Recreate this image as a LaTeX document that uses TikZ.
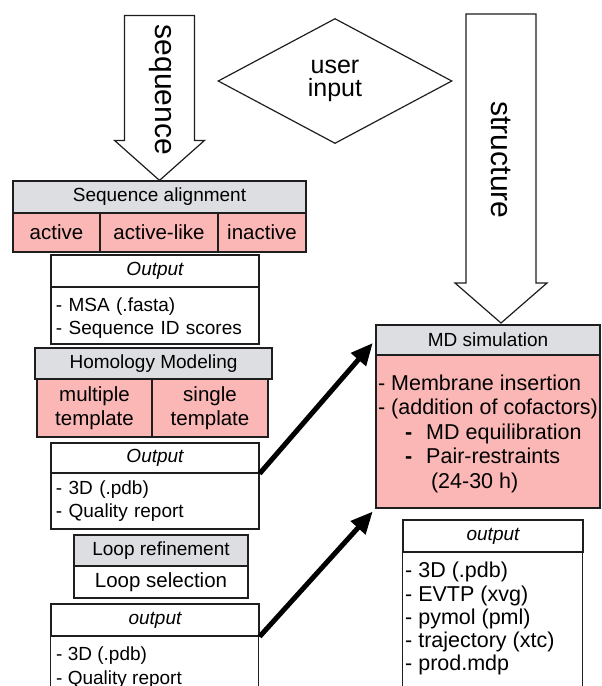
\documentclass[tikz,border=0pt]{standalone}
\usepackage{fontspec}
\setmainfont{Liberation Sans}
\usetikzlibrary{shapes.geometric,arrows.meta}

\definecolor{hdrgray}{RGB}{221,222,225}
\definecolor{cellpink}{RGB}{250,183,181}
\definecolor{linegray}{RGB}{30,30,30}

\tikzset{
  box/.style={draw=linegray, line width=1.2pt, rectangle, inner sep=0pt, align=center},
  hdr/.style={box, fill=hdrgray, font=\fontsize{19}{22}\selectfont},
  cell/.style={box, fill=cellpink, font=\fontsize{20.5}{24}\selectfont},
  whitebox/.style={box, fill=white, font=\fontsize{19}{22.5}\selectfont},
  listbox/.style={whitebox, text width=198pt, align=left},
  blockarrow/.style={draw=linegray, line width=1.2pt, fill=white},
  bigword/.style={rotate=-90, font=\fontsize{30}{36}\selectfont},
  fatarrow/.style={line width=5pt, shorten >=4pt, -{Triangle[length=22pt,width=19pt]}},
}

\begin{document}
\begin{tikzpicture}[x=1pt,y=-1pt]
            \useasboundingbox (0,0) rectangle (602,686);
            \clip (0,0) rectangle (602,686);

            % user input
            \node[diamond, draw=linegray, line width=1.2pt, minimum width=234pt, minimum height=125pt,
                  inner sep=0pt, align=center, font=\fontsize{25}{23}\selectfont] (userin) at (335,81) {user\\input};

            % sequence branch
            \node[hdr, minimum width=293pt, minimum height=32pt] (seqaln) at (159.5,197) {Sequence alignment};
            \node[cell, minimum width=87pt, minimum height=39pt] (active) at (56.5,232.5) {active};
            \node[cell, minimum width=118pt, minimum height=39pt] (actlike) at (159,232.5) {active-like};
            \node[cell, minimum width=88pt, minimum height=39pt] (inactive) at (262,232.5) {inactive};
            \draw[blockarrow] (seqaln.north) -- ++(45,-40) -- ++(-10,0) -- ++(0,-125) -- ++(-70,0)
                -- ++(0,125) -- ++(-10,0) -- cycle;
            \node[bigword] (seqword) at (160,90) {sequence};

            \node[whitebox, minimum width=208pt, minimum height=32pt] (out1hdr) at (155,271) {\itshape Output};
            \node[listbox, minimum width=208pt, minimum height=57pt] (out1body) at (155,315.5)
                {\rule{0pt}{19pt}- MSA (.fasta)\\- Sequence ID scores};

            \node[hdr, minimum width=237pt, minimum height=31pt] (homhdr) at (153.5,363.5) {Homology Modeling};
            \node[cell, minimum width=115pt, minimum height=58pt] (multi) at (94.5,408) {multiple\\template};
            \node[cell, minimum width=116pt, minimum height=58pt] (single) at (210,408) {single\\template};

            \node[whitebox, minimum width=208pt, minimum height=30pt] (out2hdr) at (155,458) {\itshape Output};
            \node[listbox, minimum width=208pt, minimum height=56pt] (out2body) at (155,501)
                {- 3D (.pdb)\\- Quality report};

            \node[hdr, minimum width=174pt, minimum height=31pt] (loophdr) at (161,550.5) {Loop refinement};
            \node[whitebox, minimum width=174pt, minimum height=32pt, font=\fontsize{20.5}{24}\selectfont]
                (loopsel) at (161,582) {Loop selection};

            \node[whitebox, minimum width=208pt, minimum height=32pt] (out3hdr) at (155,620) {\itshape output};
            \draw[box] (out3hdr.south west) rectangle ++(208,70);
            \node[anchor=north west, inner sep=0pt, align=left, font=\fontsize{19}{24}\selectfont]
                (out3body) at (56,647) {- 3D (.pdb)\\- Quality report};

            % structure branch
            \node[hdr, minimum width=224pt, minimum height=30pt] (mdhdr) at (488,340) {MD simulation};
            \node[cell, minimum width=224pt, minimum height=153pt, align=left,
                  font=\fontsize{21.5}{24.5}\selectfont] (mdbody) at (488,431.5)
                {\rule{0pt}{20pt}- Membrane insertion\\- (addition of cofactors)\\
                 \hspace*{27pt}\textbf{-}\hspace{14pt}MD equilibration\\
                 \hspace*{27pt}\textbf{-}\hspace{14pt}Pair-restraints\\
                 \hspace*{53pt}(24-30 h)};
            \draw[blockarrow] (501,323) -- (547,283) -- (536,283) -- (536,14) -- (466,14)
                -- (466,283) -- (455,283) -- cycle;
            \node[bigword] (strword) at (501,160) {structure};

            \node[whitebox, minimum width=180pt, minimum height=32pt] (mdouthdr) at (493,536) {\itshape output};
            \draw[box] (mdouthdr.south west) rectangle ++(180,150);
            \node[anchor=north west, inner sep=0pt, align=left, font=\fontsize{21.5}{23.3}\selectfont]
                (mdoutbody) at (405,562)
                {- 3D (.pdb)\\- EVTP (xvg)\\- pymol (pml)\\- trajectory (xtc)\\- prod.mdp};

            \draw[fatarrow] (out2hdr.south east) -- (mdhdr.west); % homology -> MD
            \draw[fatarrow] (out3hdr.south east) -- (mdbody.south west); % loops -> MD
        \end{tikzpicture}
\end{document}
